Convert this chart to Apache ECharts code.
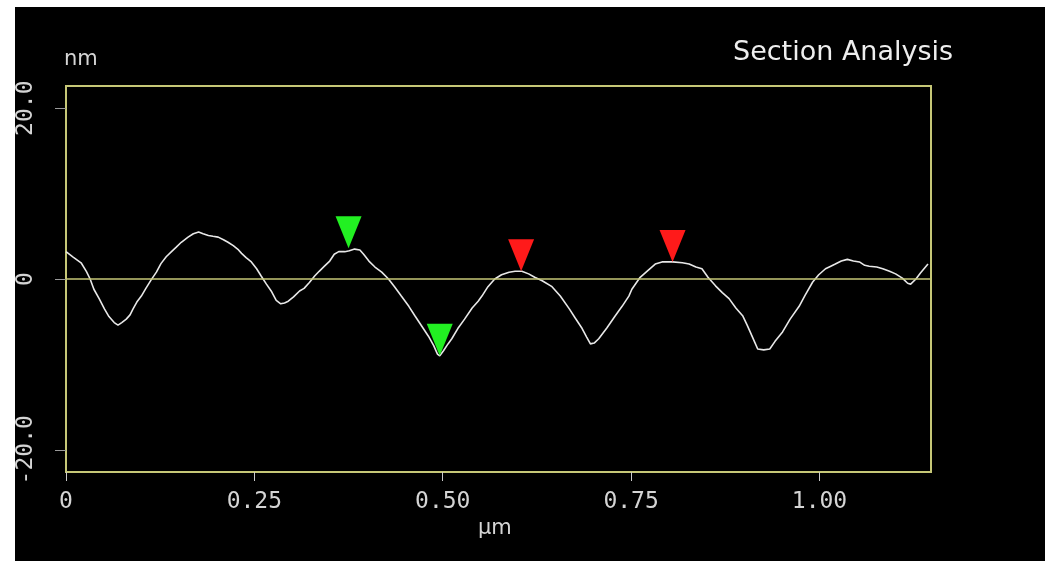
<!DOCTYPE html>
<html>
<head>
<meta charset="utf-8">
<script src="https://cdn.jsdelivr.net/npm/echarts@6/dist/echarts.min.js"></script>
<style>
html,body{margin:0;padding:0;background:#ffffff;width:1048px;height:561px;overflow:hidden;}
#chart{position:absolute;left:15px;top:7px;width:1030px;height:554px;background:#000000;}
</style>
</head>
<body>
<div id="chart"></div>
<script>
// Section profile: x in µm, height in nm
const profileX = [0.000,0.009,0.020,0.027,0.032,0.037,0.044,0.051,0.057,0.064,0.069,0.074,0.080,0.085,0.089,0.094,0.100,0.106,0.113,0.120,0.126,0.133,0.140,0.146,0.153,0.162,0.169,0.176,0.182,0.189,0.195,0.202,0.209,0.215,0.222,0.229,0.233,0.239,0.246,0.253,0.259,0.266,0.273,0.279,0.285,0.290,0.295,0.302,0.310,0.316,0.323,0.330,0.336,0.343,0.350,0.356,0.362,0.370,0.376,0.383,0.390,0.395,0.402,0.410,0.419,0.428,0.436,0.445,0.455,0.463,0.472,0.481,0.488,0.493,0.496,0.501,0.507,0.512,0.520,0.529,0.539,0.547,0.552,0.560,0.569,0.578,0.588,0.596,0.605,0.614,0.622,0.632,0.645,0.656,0.668,0.676,0.685,0.691,0.696,0.701,0.707,0.718,0.729,0.738,0.747,0.751,0.762,0.771,0.782,0.791,0.805,0.818,0.827,0.836,0.844,0.852,0.862,0.871,0.880,0.889,0.898,0.904,0.908,0.914,0.918,0.926,0.934,0.941,0.951,0.961,0.973,0.981,0.991,0.999,1.008,1.015,1.021,1.029,1.037,1.045,1.053,1.060,1.066,1.076,1.084,1.093,1.101,1.110,1.117,1.121,1.128,1.134,1.144];
const profileY = [3.2,2.6,1.9,0.9,0.0,-1.2,-2.3,-3.5,-4.4,-5.1,-5.4,-5.1,-4.7,-4.2,-3.5,-2.7,-2.0,-1.1,-0.1,0.8,1.8,2.6,3.2,3.7,4.3,4.9,5.3,5.5,5.3,5.1,5.0,4.9,4.6,4.3,3.9,3.4,3.0,2.5,2.0,1.2,0.35,-0.6,-1.5,-2.5,-2.9,-2.8,-2.6,-2.1,-1.4,-1.1,-0.4,0.35,0.9,1.5,2.1,2.9,3.2,3.2,3.3,3.5,3.4,2.9,2.1,1.4,0.8,0.0,-0.9,-2.0,-3.2,-4.3,-5.5,-6.7,-7.8,-8.8,-9.0,-8.4,-7.6,-7.0,-5.8,-4.7,-3.4,-2.6,-2.0,-0.9,0.0,0.5,0.8,0.9,0.9,0.6,0.2,-0.2,-0.9,-2.0,-3.5,-4.6,-5.8,-6.8,-7.6,-7.5,-7.0,-5.7,-4.3,-3.2,-2.0,-1.2,0.2,0.9,1.75,2.0,2.0,1.9,1.75,1.4,1.2,0.2,-0.8,-1.6,-2.3,-3.4,-4.3,-5.4,-6.2,-7.4,-8.2,-8.3,-8.2,-7.3,-6.2,-4.7,-3.2,-1.9,-0.35,0.5,1.2,1.5,1.75,2.1,2.3,2.1,2.0,1.6,1.5,1.4,1.2,0.9,0.6,0.1,-0.5,-0.6,0.0,0.7,1.75];

// Cursor markers
const greenMarkers = [[0.375, 3.6], [0.496, -9.0]];
const redMarkers = [[0.604, 0.9], [0.805, 2.0]];

// Axis ticks
const xTicks = [0, 0.25, 0.5, 0.75, 1.0];
const yTicks = [-20, 0, 20];
const xMax = 1.148;
const yMin = -22.6, yMax = 22.6;

const frameColor = '#c6c777';
const textColor = '#d4d4d4';
const monoFont = '"DejaVu Sans Mono", "Liberation Mono", monospace';
const triPath = 'path://M0,0 L26,0 L13,32 Z';

const chart = echarts.init(document.getElementById('chart'), null, {renderer: 'canvas'});
chart.setOption({
  backgroundColor: '#000000',
  animation: false,
  grid: {left: 48, right: 114, top: 79, bottom: 89, show: true, borderColor: frameColor, borderWidth: 2, backgroundColor: 'transparent'},
  xAxis: {
    type: 'value', min: 0, max: xMax,
    axisLine: {show: false, onZero: false},
    splitLine: {show: false},
    axisTick: {show: true, length: 9, lineStyle: {color: '#cccccc', width: 1}, customValues: xTicks},
    axisLabel: {
      customValues: xTicks, margin: 19, color: textColor, fontFamily: monoFont, fontSize: 23,
      formatter: v => v === 0 ? '0' : v.toFixed(2)
    }
  },
  yAxis: {
    type: 'value', min: yMin, max: yMax,
    axisLine: {show: false, onZero: false},
    splitLine: {show: false},
    axisTick: {show: true, length: 11, lineStyle: {color: '#9a9a9a', width: 1}, customValues: yTicks},
    axisLabel: {
      customValues: yTicks, rotate: 90, margin: 28, color: textColor, fontFamily: monoFont, fontSize: 23,
      formatter: v => v === 0 ? '0' : v.toFixed(1)
    }
  },
  graphic: [
    {type: 'text', left: 718, top: 32, style: {text: 'Section Analysis', fill: '#eeeeee', font: '27px "DejaVu Sans", Verdana, sans-serif'}},
    {type: 'text', left: 49, top: 42, style: {text: 'nm', fill: textColor, font: '21px "DejaVu Sans", sans-serif'}},
    {type: 'text', left: 463, top: 511, style: {text: 'µm', fill: textColor, font: '21px "DejaVu Sans", sans-serif'}}
  ],
  series: [
    {
      type: 'line',
      data: profileX.map((x, i) => [x, profileY[i]]),
      showSymbol: false,
      lineStyle: {color: '#e8e8e8', width: 1.6},
      z: 3,
      markLine: {
        silent: true, symbol: 'none', label: {show: false},
        lineStyle: {color: frameColor, width: 1.5, type: 'solid'},
        data: [{yAxis: 0}]
      }
    },
    {
      type: 'scatter',
      data: greenMarkers,
      symbol: triPath, symbolSize: [26, 32], symbolOffset: [0, '-50%'],
      itemStyle: {color: '#22f022', opacity: 1}, z: 5
    },
    {
      type: 'scatter',
      data: redMarkers,
      symbol: triPath, symbolSize: [26, 32], symbolOffset: [0, '-50%'],
      itemStyle: {color: '#ff1a1a', opacity: 1}, z: 5
    }
  ]
});
</script>
</body>
</html>
